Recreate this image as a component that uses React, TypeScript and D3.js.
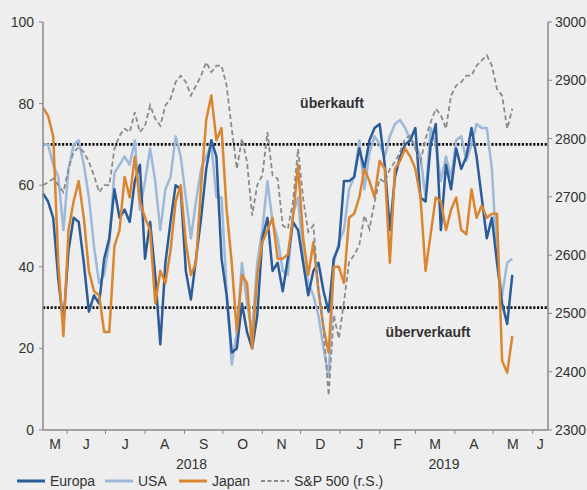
import { useMemo } from 'react'
import * as d3 from 'd3'

// sample every 4 days from 13 May 2018
const START = new Date(2018, 4, 13)
const STEP_DAYS = 4

const europa = [
  58, 56, 52, 37, 26, 44, 52, 51, 41, 29, 33, 31, 42, 47, 59, 52, 54, 51, 61, 65,
  42, 51, 38, 21, 41, 51, 60, 59, 39, 32, 42, 52, 64, 71, 67, 42, 33, 19, 20, 31,
  24, 20, 28, 47, 52, 39, 41, 34, 42, 51, 49, 41, 33, 39, 41, 34, 29, 42, 45, 61,
  61, 62, 69, 64, 71, 74, 75, 65, 49, 62, 67, 70, 71, 74, 57, 56, 70, 75, 49, 65,
  59, 69, 64, 67, 74, 67, 57, 47, 52, 41, 31, 26, 38,
]
const usa = [
  70, 70, 65, 62, 49, 64, 70, 71, 65, 57, 45, 36, 38, 46, 63, 65, 67, 65, 71, 54,
  61, 69, 61, 49, 59, 62, 72, 67, 57, 47, 56, 64, 67, 70, 57, 57, 34, 16, 24, 41,
  31, 24, 41, 49, 61, 51, 47, 39, 38, 53, 57, 42, 36, 33, 28, 20, 13, 41, 46, 49,
  59, 62, 71, 59, 68, 72, 70, 67, 72, 75, 76, 74, 71, 70, 67, 57, 74, 70, 61, 67,
  62, 71, 72, 66, 70, 75, 74, 74, 64, 42, 33, 41, 42,
]
const japan = [
  79, 77, 72, 41, 23, 49, 56, 61, 52, 39, 34, 33, 24, 24, 45, 49, 62, 57, 67, 56,
  52, 49, 31, 39, 36, 44, 56, 60, 46, 38, 41, 60, 76, 82, 71, 74, 54, 41, 24, 38,
  36, 20, 38, 46, 49, 52, 42, 42, 43, 52, 65, 47, 38, 46, 34, 25, 19, 40, 40, 36,
  52, 53, 57, 64, 61, 57, 66, 64, 41, 64, 66, 69, 67, 64, 57, 39, 48, 57, 56, 49,
  54, 57, 49, 48, 59, 52, 55, 52, 53, 53, 17, 14, 23,
]
const sp500 = [
  2720, 2725, 2731, 2720, 2708, 2748, 2777, 2785, 2777, 2760, 2737, 2708, 2720, 2720, 2782, 2805, 2817, 2811, 2845, 2811,
  2822, 2857, 2834, 2822, 2857, 2868, 2897, 2908, 2897, 2874, 2891, 2908, 2931, 2914, 2925, 2925, 2891, 2817, 2748, 2800,
  2760, 2668, 2720, 2737, 2811, 2737, 2731, 2651, 2645, 2691, 2782, 2697, 2640, 2651, 2542, 2474, 2359, 2497, 2457, 2520,
  2588, 2600, 2617, 2668, 2645, 2691, 2731, 2725, 2748, 2760, 2777, 2800, 2805, 2782, 2760, 2800, 2828, 2851, 2840, 2817,
  2874, 2891, 2897, 2908, 2908, 2925, 2934, 2943, 2925, 2885, 2874, 2817, 2851,
]

const leftTicks = [0, 20, 40, 60, 80, 100]
const rightTicks = [2300, 2400, 2500, 2600, 2700, 2800, 2900, 3000]
const monthLabels = ['M', 'J', 'J', 'A', 'S', 'O', 'N', 'D', 'J', 'F', 'M', 'A', 'M', 'J']
const years = ['2018', '2019']
const thresholds = [70, 30]

const W = 587
const H = 490
const font = 'Liberation Sans, Arial, sans-serif'

export default function App() {
  const x = d3.scaleTime().domain([START, new Date(2019, 5, 13)]).range([43, 548])
  const yL = d3.scaleLinear().domain([0, 100]).range([430, 22])
  const yR = d3.scaleLinear().domain([2300, 3000]).range([430, 22])

  const dates = useMemo(() => europa.map((_, i) => d3.timeDay.offset(START, i * STEP_DAYS)), [])

  const lineL = d3.line<number>().x((_, i) => x(dates[i])).y(d => yL(d))
  const lineR = d3.line<number>().x((_, i) => x(dates[i])).y(d => yR(d))

  const [d0, d1] = x.domain()
  const monthStarts = d3.timeMonth.range(d3.timeMonth.ceil(d0), d1)
  const bounds = [d0, ...monthStarts, d1]
  const yearBounds = [d0, new Date(2019, 0, 1), d1]

  const series = [
    { name: 'USA', data: usa, color: '#9db8d8' },
    { name: 'Europa', data: europa, color: '#2b5c98' },
    { name: 'Japan', data: japan, color: '#da8530' },
  ]
  const legend = [
    { name: 'Europa', color: '#2b5c98', dash: '', x: 17 },
    { name: 'USA', color: '#9db8d8', dash: '', x: 105 },
    { name: 'Japan', color: '#da8530', dash: '', x: 179 },
    { name: 'S&P 500 (r.S.)', color: '#8a8a8a', dash: '4,2.5', x: 261 },
  ]

  return (
    <svg width={W} height={H} style={{ position: 'fixed', left: 0, top: 0, background: '#eeeeee' }} fontFamily={font}>
      {/* threshold lines */}
      {thresholds.map(t => (
        <line key={t} x1={43} x2={548} y1={yL(t)} y2={yL(t)} stroke="#111" strokeWidth={2.6} strokeDasharray="2.2,1.6" />
      ))}
      <text x={332} y={108} textAnchor="middle" fontSize={14} fontWeight="bold" fill="#333">überkauft</text>
      <text x={428} y={337} textAnchor="middle" fontSize={14} fontWeight="bold" fill="#333">überverkauft</text>

      {series.map(s => (
        <path key={s.name} d={lineL(s.data) || ''} fill="none" stroke={s.color} strokeWidth={2.5} strokeLinejoin="round" />
      ))}
      <path d={lineR(sp500) || ''} fill="none" stroke="#8a8a8a" strokeWidth={1.8} strokeDasharray="5,3" />

      {/* left axis */}
      <line x1={43} x2={43} y1={22} y2={430} stroke="#888" strokeWidth={1.5} />
      {leftTicks.map(t => (
        <g key={t}>
          <line x1={39} x2={43} y1={yL(t)} y2={yL(t)} stroke="#888" />
          <text x={34} y={yL(t) + 5} textAnchor="end" fontSize={14} fill="#333">{t}</text>
        </g>
      ))}
      {/* right axis */}
      <line x1={548} x2={548} y1={22} y2={430} stroke="#888" strokeWidth={1.5} />
      {rightTicks.map(t => (
        <g key={t}>
          <line x1={548} x2={552} y1={yR(t)} y2={yR(t)} stroke="#888" />
          <text x={555} y={yR(t) + 5} fontSize={14} fill="#333">{t}</text>
        </g>
      ))}
      {/* bottom axis */}
      <line x1={43} x2={548} y1={430} y2={430} stroke="#888" strokeWidth={1.5} />
      {monthStarts.map((m, i) => (
        <line key={i} x1={x(m)} x2={x(m)} y1={430} y2={434} stroke="#888" />
      ))}
      {monthLabels.map((lab, i) => (
        <text key={i} x={(x(bounds[i]) + x(bounds[i + 1])) / 2} y={449} textAnchor="middle" fontSize={14} fill="#333">{lab}</text>
      ))}
      {years.map((yr, i) => (
        <text key={yr} x={(x(yearBounds[i]) + x(yearBounds[i + 1])) / 2} y={469} textAnchor="middle" fontSize={14} fill="#333">{yr}</text>
      ))}

      {/* legend */}
      {legend.map(l => (
        <g key={l.name}>
          <line x1={l.x} x2={l.x + 28} y1={481} y2={481} stroke={l.color} strokeWidth={l.dash ? 1.8 : 3} strokeDasharray={l.dash} />
          <text x={l.x + 33} y={486} fontSize={14} fill="#333">{l.name}</text>
        </g>
      ))}
    </svg>
  )
}
